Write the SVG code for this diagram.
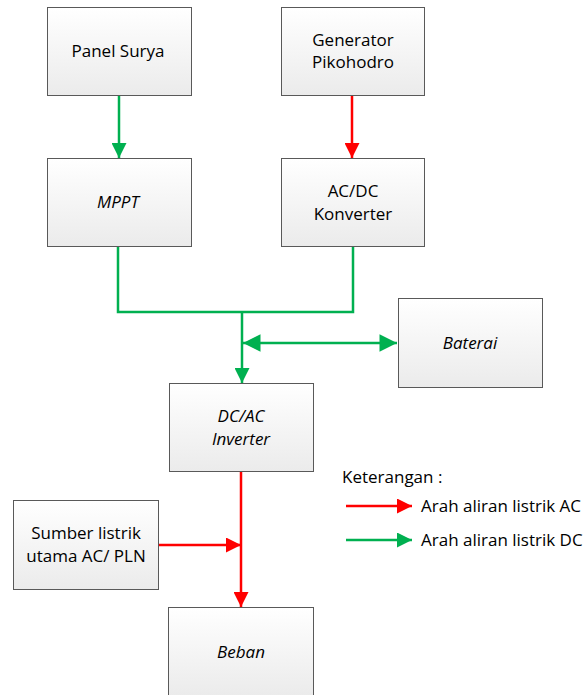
<svg xmlns="http://www.w3.org/2000/svg" width="587" height="695" viewBox="0 0 587 695">
  <defs>
    <linearGradient id="boxFill" x1="0" y1="0" x2="0" y2="1">
      <stop offset="0" stop-color="#ffffff"/>
      <stop offset="1" stop-color="#ebebeb"/>
    </linearGradient>
    <marker id="arrG" viewBox="0 0 10 10" refX="10" refY="5" markerWidth="6" markerHeight="6" markerUnits="strokeWidth" orient="auto-start-reverse">
      <path d="M0,0 L10,5 L0,10 Z" fill="#00b050"/>
    </marker>
    <marker id="arrR" viewBox="0 0 10 10" refX="10" refY="5" markerWidth="6" markerHeight="6" markerUnits="strokeWidth" orient="auto-start-reverse">
      <path d="M0,0 L10,5 L0,10 Z" fill="#ff0000"/>
    </marker>
    <marker id="arrGBig" viewBox="0 0 10 10" refX="10" refY="5" markerWidth="9" markerHeight="7" markerUnits="strokeWidth" orient="auto-start-reverse">
      <path d="M0,0 L10,5 L0,10 Z" fill="#00b050"/>
    </marker>
  </defs>
  <style>
    .box { fill: url(#boxFill); stroke: #595959; stroke-width: 1; }
    .lbl { font-family: "Open Sans", "Liberation Sans", sans-serif; font-size: 17px; fill: #000; text-anchor: middle; }
    .it { font-style: italic; }
    .leg { font-family: "Open Sans", "Liberation Sans", sans-serif; font-size: 17px; fill: #000; }
    .g { stroke: #00b050; stroke-width: 2.5; fill: none; }
    .r { stroke: #ff0000; stroke-width: 2.5; fill: none; }
  </style>

  <g id="connectors">
    <line class="g" x1="119" y1="95" x2="119" y2="158" marker-end="url(#arrG)"/>
    <line class="r" x1="352" y1="95" x2="352" y2="158" marker-end="url(#arrR)"/>
    <polyline class="g" points="118,246 118,312 353,312 353,246"/>
    <line class="g" x1="242" y1="312" x2="242" y2="383" marker-end="url(#arrG)"/>
    <line class="g" x1="243" y1="343" x2="397" y2="343" marker-start="url(#arrGBig)" marker-end="url(#arrGBig)"/>
    <line class="r" x1="241" y1="471" x2="241" y2="607" marker-end="url(#arrR)"/>
    <line class="r" x1="158" y1="545" x2="241" y2="545" marker-end="url(#arrR)"/>
  </g>

  <g id="panel-surya">
    <rect class="box" x="47.5" y="7.5" width="144" height="88"/>
    <text class="lbl" x="118" y="57">Panel Surya</text>
  </g>
  <g id="generator">
    <rect class="box" x="281.5" y="7.5" width="143" height="88"/>
    <text class="lbl" x="353" y="46">Generator</text>
    <text class="lbl" x="353" y="68">Pikohodro</text>
  </g>
  <g id="mppt">
    <rect class="box" x="47.5" y="158.5" width="144" height="88"/>
    <text class="lbl it" x="118" y="208">MPPT</text>
  </g>
  <g id="acdc">
    <rect class="box" x="281.5" y="158.5" width="143" height="88"/>
    <text class="lbl" x="353" y="197">AC/DC</text>
    <text class="lbl" x="353" y="220">Konverter</text>
  </g>
  <g id="baterai">
    <rect class="box" x="398.5" y="298.5" width="144" height="89"/>
    <text class="lbl it" x="470" y="349">Baterai</text>
  </g>
  <g id="inverter">
    <rect class="box" x="169.5" y="383.5" width="144" height="88"/>
    <text class="lbl it" x="241" y="422">DC/AC</text>
    <text class="lbl it" x="241" y="445">Inverter</text>
  </g>
  <g id="sumber">
    <rect class="box" x="13.5" y="500.5" width="145" height="89"/>
    <text class="lbl" x="86" y="539">Sumber listrik</text>
    <text class="lbl" x="86" y="562">utama AC/ PLN</text>
  </g>
  <g id="beban">
    <rect class="box" x="168.5" y="607.5" width="145" height="88"/>
    <text class="lbl it" x="241" y="658">Beban</text>
  </g>

  <g id="legend">
    <text class="leg" x="342" y="483">Keterangan :</text>
    <line class="r" x1="346" y1="506" x2="412" y2="506" marker-end="url(#arrR)"/>
    <text class="leg" x="421" y="512">Arah aliran listrik AC</text>
    <line class="g" x1="346" y1="540" x2="412" y2="540" marker-end="url(#arrG)"/>
    <text class="leg" x="421" y="546">Arah aliran listrik DC</text>
  </g>
</svg>
